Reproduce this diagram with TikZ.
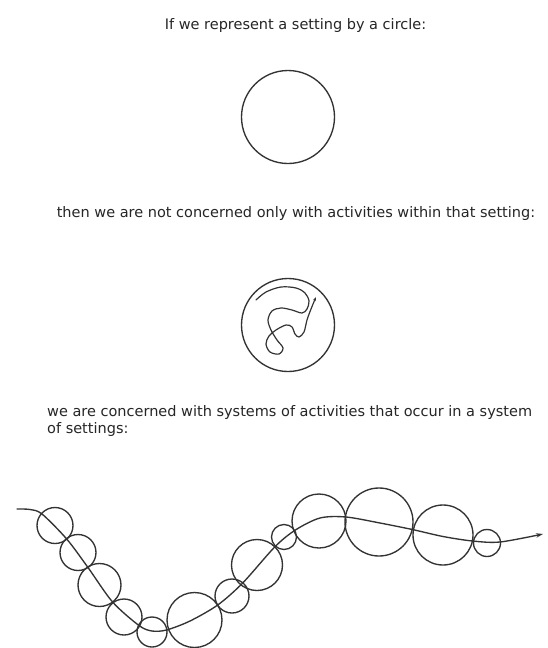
\documentclass[tikz,border=0pt]{standalone}
\usepackage{fontspec}
\setmainfont{DejaVu Sans}
\usetikzlibrary{arrows.meta}
\tikzset{
  ink/.style={draw=black!80, line width=1.35pt},
  setting/.style={ink, circle, inner sep=0pt, minimum size=#1},
  label/.style={text=black!85, inner sep=0pt, font=\fontsize{14.5}{17}\selectfont},
  path/.style={ink, line cap=round, line join=round},
}
\begin{document}
\begin{tikzpicture}[x=1pt, y=-1pt]
\useasboundingbox[fill=white] (0,0) rectangle (548,648);

% texts
\node[label, anchor=base] (t1) at (295.5,29) {If we represent a setting by a circle:};
\node[label, anchor=base] (t2) at (296,217) {then we are not concerned only with activities within that setting:};
\node[label, anchor=base west] (t3) at (47,416) {we are concerned with systems of activities that occur in a system};
\node[label, anchor=base west] (t4) at (47,433) {of settings:};

% single setting
\node[setting=93pt] (s1) at (288,117) {};

% setting with activities
\node[setting=93pt] (s2) at (288,325) {};
\coordinate (wstart) at (256,300);
\coordinate (wend) at (316,297);
\draw[path, line width=1.2pt, -{Stealth[length=4pt,width=3pt]}] plot[smooth, tension=0.55] coordinates {
  (wstart) (266,292) (281,287) (296,288) (305,293) (309,301) (307,309) (302,313)
  (292,310) (281,308) (272,311) (268,320) (271,330) (277,340) (283,348) (279,354)
  (270,352) (266,344) (269,336) (276,330) (286,325) (292,327) (295,334) (299,337)
  (304,332) (307,320) (311,309) (wend)};

% system of settings
\node[setting=36pt] (a) at (55,525.5) {};
\node[setting=36pt] (b) at (78,552.5) {};
\node[setting=43pt] (c) at (99.5,585) {};
\node[setting=36pt] (d) at (124,617) {};
\node[setting=30pt] (e) at (152,632) {};
\node[setting=55pt] (f) at (194.5,620) {};
\node[setting=34pt] (g) at (232,596) {};
\node[setting=51pt] (h) at (257,565) {};
\node[setting=25pt] (i) at (284,537) {};
\node[setting=54pt] (j) at (319,521) {};
\node[setting=68pt] (k) at (379,522) {};
\node[setting=60pt] (l) at (443,535) {};
\node[setting=27pt] (m) at (487,543) {};

\coordinate (start) at (17,509);
\coordinate (finish) at (543,534);
\draw[path, -{Stealth[length=7pt,width=4.5pt]}] plot[smooth, tension=0.5] coordinates {
  (start) (30,509.5) (42,514) (66.7,539) (88,567.5) (112.6,602) (139,625.5)
  (152,631) (166.5,630) (190,621) (217.7,605) (242.7,583) (274.7,547)
  (295.4,530) (320,518) (346,517) (380,523) (412.3,529.5) (443,536.5)
  (472.5,541) (500,542) (finish)};
\end{tikzpicture}
\end{document}
